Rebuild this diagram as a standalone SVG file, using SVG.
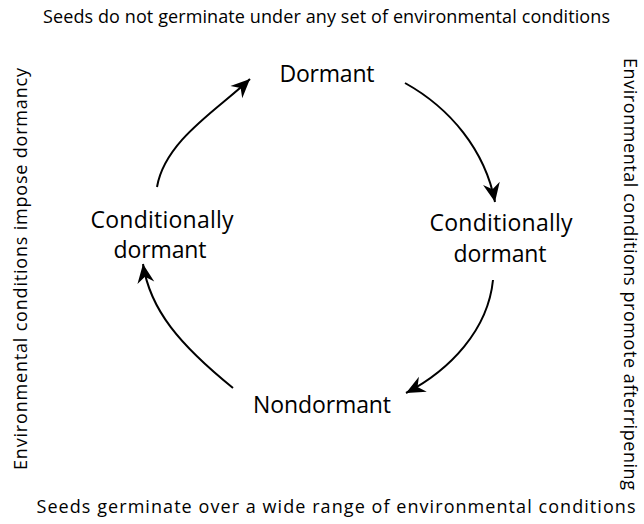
<svg xmlns="http://www.w3.org/2000/svg" width="644" height="524" viewBox="0 0 644 524">
  <style>
    .label { font-family: "Open Sans", "Noto Sans", "Liberation Sans", sans-serif; fill: #000; text-anchor: middle; }
    .state { font-size: 23px; }
    .note { font-size: 18px; }
    .arc { fill: none; stroke: #000; stroke-width: 2; marker-end: url(#head); }
  </style>
  <defs>
    <marker id="head" markerUnits="userSpaceOnUse" viewBox="-20 -10 22 20" markerWidth="22" markerHeight="20" refX="0" refY="0" orient="auto">
      <path d="M0,0 L-19,-8.5 L-13,0 L-19,8.5 Z" fill="#000"/>
    </marker>
  </defs>

  <rect width="644" height="524" fill="#fff"/>

  <!-- outer annotations -->
  <g id="note-top">
    <text class="label note" x="326.5" y="23" textLength="567">Seeds do not germinate under any set of environmental conditions</text>
  </g>
  <g id="note-bottom">
    <text class="label note" x="336" y="513" textLength="599">Seeds germinate over a wide range of environmental conditions</text>
  </g>
  <g id="note-left">
    <text class="label note" transform="translate(27,269) rotate(-90)" textLength="402">Environmental conditions impose dormancy</text>
  </g>
  <g id="note-right">
    <text class="label note" transform="translate(624,274) rotate(90)" textLength="432">Environmental conditions promote afterripening</text>
  </g>

  <!-- states of the cycle -->
  <g id="dormant">
    <text class="label state" x="327" y="82" textLength="95">Dormant</text>
  </g>
  <g id="conditional-right">
    <text class="label state" x="501" y="231" textLength="143">Conditionally</text>
    <text class="label state" x="500" y="262" textLength="93">dormant</text>
  </g>
  <g id="nondormant">
    <text class="label state" x="322" y="413" textLength="138">Nondormant</text>
  </g>
  <g id="conditional-left">
    <text class="label state" x="162" y="228" textLength="143">Conditionally</text>
    <text class="label state" x="160" y="258" textLength="93">dormant</text>
  </g>

  <!-- cycle arrows -->
  <g id="connectors">
    <path class="arc" d="M157,187 C165,140 220,108 250,79"/>
    <path class="arc" d="M405,83 C450,108 485,150 495,202"/>
    <path class="arc" d="M493,280 C488,330 450,370 406,393"/>
    <path class="arc" d="M233,388 C180,345 150,310 143,264"/>
  </g>
</svg>
